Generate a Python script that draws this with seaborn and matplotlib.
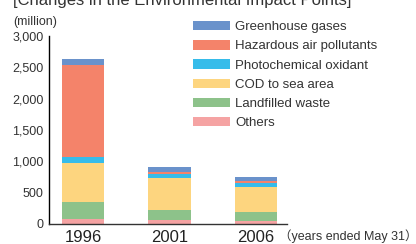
import matplotlib
matplotlib.use("Agg")
import matplotlib.pyplot as plt
import seaborn as sns
import numpy as np
import pandas as pd
from matplotlib.patches import Patch
from matplotlib.ticker import FuncFormatter

years = ["1996", "2001", "2006"]
# stacked from bottom to top
series_names = ["Others", "Landfilled waste", "COD to sea area",
                "Photochemical oxidant", "Hazardous air pollutants", "Greenhouse gases"]
others = [80, 64, 48]
landfill = [271, 159, 143]
cod = [622, 511, 399]
photo = [96, 64, 64]
hazardous = [1468, 32, 32]
ghg = [96, 80, 64]
colors = ["#F5A3A3", "#8DC28A", "#FDD57F", "#36BCEA", "#F4836A", "#6A92CB"]
yticks = [0, 500, 1000, 1500, 2000, 2500, 3000]

sns.set_theme(style="white")
plt.rcParams["font.family"] = ["Liberation Sans", "Noto Sans CJK JP", "DejaVu Sans"]

fig = plt.figure(figsize=(4.16, 2.44), dpi=100)
ax = fig.add_axes([49/416, 1-224/244, (287-49)/416, (224-36)/244])

data = [others, landfill, cod, photo, hazardous, ghg]
bottom = np.zeros(len(years))
for name, vals, c in zip(series_names, data, colors):
    df = pd.DataFrame({"year": years, "value": vals})
    sns.barplot(data=df, x="year", y="value", color=c, bottom=bottom.copy(),
                width=0.486, ax=ax, saturation=1, linewidth=0, errorbar=None)
    bottom += np.array(vals)

ax.set_xlim(-0.393, 2.358)
ax.set_ylim(0, 3000)
ax.set_yticks(yticks)
ax.yaxis.set_major_formatter(FuncFormatter(lambda v, p: f"{int(v):,}"))
ax.set_xlabel("")
ax.set_ylabel("")
sns.despine(ax=ax)
ax.spines["left"].set_color("#000000")
ax.spines["left"].set_linewidth(1.0)
ax.spines["bottom"].set_color("#333333")
ax.spines["bottom"].set_linewidth(1.0)
ax.tick_params(axis="y", length=0, pad=4, labelsize=9, labelcolor="#333333")
ax.tick_params(axis="x", length=0, pad=4, labelsize=12, labelcolor="#222222")
t = ax.yaxis.get_major_ticks()[-1]
t.tick1line.set_marker(matplotlib.lines.TICKRIGHT)
t.tick1line.set_markersize(4)
t.tick1line.set_markeredgewidth(1.0)
t.tick1line.set_color("#000000")

handles = [Patch(facecolor=c, edgecolor="none") for c in colors[::-1]]
fig.legend(handles, series_names[::-1], loc="upper left",
           bbox_to_anchor=(193/416, 1-21/244), frameon=False, fontsize=9.5,
           handlelength=2.8, handleheight=0.72, handletextpad=0.4,
           labelspacing=0.52, borderpad=0, borderaxespad=0, labelcolor="#333333")

fig.text(13/416, 1-5/244, "[Changes in the Environmental Impact Points]",
         fontsize=12, va="baseline", ha="left", color="#333333")
fig.text(13/416, 1-25/244, "(million)", fontsize=9, va="baseline", ha="left", color="#333333")
fig.text(279/416, 1-240/244, "（years ended May 31）", fontsize=9, va="baseline",
         ha="left", color="#333333")

fig.savefig("out.png", dpi=100)
